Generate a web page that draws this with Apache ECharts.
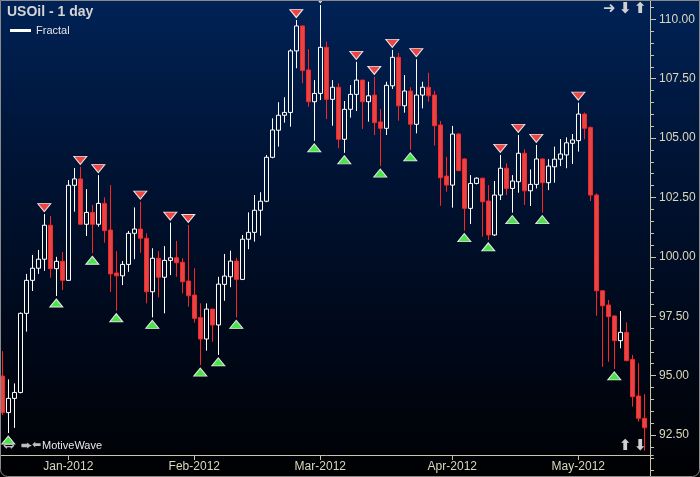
<!DOCTYPE html>
<html><head><meta charset="utf-8">
<script src="https://cdn.jsdelivr.net/npm/echarts/dist/echarts.min.js"></script>
<style>html,body{margin:0;padding:0;background:#000;}#c{width:700px;height:477px;}</style>
</head><body><div id="c"></div>
<script>
const dates = [
'2011-12-16','2011-12-19','2011-12-20','2011-12-21','2011-12-22','2011-12-23','2011-12-26','2011-12-27','2011-12-28','2011-12-29','2011-12-30',
'2012-01-03','2012-01-04','2012-01-05','2012-01-06','2012-01-09','2012-01-10','2012-01-11','2012-01-12','2012-01-13','2012-01-16','2012-01-17','2012-01-18','2012-01-19','2012-01-20','2012-01-23','2012-01-24','2012-01-25','2012-01-26','2012-01-27','2012-01-30','2012-01-31',
'2012-02-01','2012-02-02','2012-02-03','2012-02-06','2012-02-07','2012-02-08','2012-02-09','2012-02-10','2012-02-13','2012-02-14','2012-02-15','2012-02-16','2012-02-17','2012-02-20','2012-02-21','2012-02-22','2012-02-23','2012-02-24','2012-02-27','2012-02-28','2012-02-29',
'2012-03-01','2012-03-02','2012-03-05','2012-03-06','2012-03-07','2012-03-08','2012-03-09','2012-03-12','2012-03-13','2012-03-14','2012-03-15','2012-03-16','2012-03-19','2012-03-20','2012-03-21','2012-03-22','2012-03-23','2012-03-26','2012-03-27','2012-03-28','2012-03-29','2012-03-30',
'2012-04-02','2012-04-03','2012-04-04','2012-04-05','2012-04-06','2012-04-09','2012-04-10','2012-04-11','2012-04-12','2012-04-13','2012-04-16','2012-04-17','2012-04-18','2012-04-19','2012-04-20','2012-04-23','2012-04-24','2012-04-25','2012-04-26','2012-04-27','2012-04-30',
'2012-05-01','2012-05-02','2012-05-03','2012-05-04','2012-05-07','2012-05-08','2012-05-09','2012-05-10','2012-05-11','2012-05-14','2012-05-15','2012-05-16'
];
const opens = [
94.98,93.44,94.04,94.29,97.62,99.01,99.52,99.90,101.33,99.50,
99.81,99.01,103.01,103.28,101.37,101.87,101.37,102.25,101.13,99.32,
99.20,99.68,100.99,101.17,100.78,98.53,99.94,99.14,99.85,99.96,
99.77,98.98,98.39,97.44,96.54,97.80,97.13,98.84,99.16,99.82,
99.05,100.74,101.03,101.96,102.34,104.19,105.33,105.96,106.08,108.67,
109.72,107.87,106.53,106.88,108.82,106.63,107.14,104.95,106.21,106.84,
107.44,106.53,106.81,105.68,105.41,107.20,108.40,106.36,106.98,105.58,
106.81,107.14,106.81,105.55,103.40,103.02,105.17,104.12,102.04,103.09,
103.31,102.35,100.92,102.60,103.73,102.88,103.16,104.36,102.78,103.05,
104.12,103.12,103.79,104.11,104.29,104.78,104.89,106.01,105.45,102.60,
98.57,97.97,97.51,96.47,96.82,95.68,94.14,93.20
];
const closes = [
93.44,94.04,94.29,97.62,99.01,99.52,99.90,101.33,99.50,99.81,
99.01,103.01,103.28,101.37,101.87,101.37,102.25,101.10,99.28,99.20,
99.68,100.99,101.17,100.78,98.53,99.94,99.14,99.85,99.96,99.75,
98.95,98.36,97.41,96.54,97.80,97.13,98.85,99.19,99.82,99.05,
100.74,101.03,101.96,102.34,104.19,105.34,105.96,106.08,108.67,109.72,
107.84,106.53,106.88,108.82,106.63,107.14,104.95,106.21,106.84,107.44,
106.53,106.78,105.65,105.41,107.22,108.40,106.36,106.98,105.58,106.81,
107.14,106.78,105.52,103.33,103.02,105.17,103.63,102.04,103.09,103.31,
102.32,100.92,102.60,103.73,102.88,103.19,104.36,102.78,103.05,104.12,
103.12,103.82,104.11,104.33,104.80,104.92,106.01,105.41,102.60,98.57,
97.94,97.48,96.47,96.82,95.63,94.11,93.20,92.80
];
const lows = [
93.34,92.58,92.80,94.25,96.85,98.56,99.28,99.41,99.12,98.35,
98.60,99.00,101.90,101.37,100.88,100.15,101.27,100.59,98.52,97.73,
98.81,99.37,99.90,100.17,98.04,97.45,98.29,97.62,99.23,99.16,
98.46,97.90,97.23,95.44,96.05,96.43,95.87,98.15,98.72,97.45,
99.02,100.32,100.64,100.89,102.30,104.15,104.64,105.65,105.48,107.94,
107.31,106.32,104.88,106.60,105.80,105.52,104.57,104.38,105.86,106.14,
105.38,105.69,105.13,103.82,105.13,107.07,105.73,106.07,104.50,105.20,
106.25,106.53,104.68,102.15,102.74,102.07,103.60,101.10,101.38,103.05,
100.85,100.71,100.88,102.39,102.60,101.86,102.70,102.18,102.14,102.88,
101.86,102.81,103.12,103.82,103.73,103.91,104.43,104.95,102.35,97.52,
95.37,95.58,95.28,96.15,95.60,93.69,93.06,91.84
];
const highs = [
96.03,94.84,94.67,97.66,99.28,100.08,100.29,101.80,101.72,100.00,
100.20,103.23,103.74,103.79,102.85,102.18,103.44,102.51,103.02,100.24,
99.82,101.09,102.08,102.32,100.99,100.36,100.24,100.45,101.44,100.67,
99.94,101.34,99.52,98.04,98.04,97.80,99.16,100.12,100.26,99.96,
100.92,101.87,102.60,102.72,104.29,105.83,106.51,106.72,108.74,109.97,
109.74,108.74,107.44,110.60,109.06,107.44,107.31,106.56,107.23,108.21,
107.46,107.37,107.58,106.22,107.37,108.71,108.59,107.65,107.14,108.32,
107.37,107.75,106.99,105.72,104.21,105.51,105.20,104.15,103.44,103.35,
103.33,103.02,103.19,104.29,103.94,103.44,105.13,104.53,103.68,104.71,
104.14,104.11,104.64,104.96,105.03,105.17,106.49,106.07,105.48,102.67,
98.60,98.18,97.53,97.72,97.24,95.87,95.52,94.22
];
const fractalHighIdx = [7,13,16,23,28,31,49,53,59,62,65,69,83,86,89,96];
const fractalLowIdx = [1,9,15,19,25,33,36,39,52,57,63,68,77,81,85,90,102];
const monthNames = ['Jan','Feb','Mar','Apr','May','Jun','Jul','Aug','Sep','Oct','Nov','Dec'];

const isMonthStart = (i) => i > 0 && i < dates.length && dates[i].slice(5,7) !== dates[i-1].slice(5,7);
const monthLabel = (d) => d ? monthNames[parseInt(d.slice(5,7),10)-1] + '-' + d.slice(0,4) : '';

const FONT = '"Liberation Sans", Arial, sans-serif';
const AXIS = '#c8c4a8';
const LABEL = '#dcd8bc';
const ICON = 'bold 15px "DejaVu Sans"';

const chart = echarts.init(document.getElementById('c'), null, {renderer:'canvas'});
chart.setOption({
  animation: false,
  backgroundColor: {type:'linear', x:0, y:0, x2:0, y2:1, colorStops:[
    {offset:0, color:'#002256'}, {offset:0.3, color:'#001538'},
    {offset:0.65, color:'#000a1d'}, {offset:0.95, color:'#000207'}, {offset:1, color:'#000000'}]},
  title: {text:'USOil - 1 day', left:7, top:5, padding:0,
    textStyle:{color:'#d4d4d4', fontSize:14, fontWeight:'bold', fontFamily:FONT}},
  legend: {left:10, top:25, padding:0, itemWidth:21, itemHeight:3,
    data:[{name:'Fractal', icon:'rect', itemStyle:{color:'#ffffff', borderWidth:0, opacity:1}}],
    textStyle:{color:'#e4e4e4', fontSize:11, fontFamily:FONT}, selectedMode:false},
  grid: {left:-0.7, top:-40.07, width:654, height:534.4, containLabel:false, outerBoundsMode:'none'},
  xAxis: {type:'category', data:dates, max:dates.length, boundaryGap:true, offset:-39.3,
    axisLine:{lineStyle:{color:AXIS, width:1}},
    axisTick:{show:true, alignWithLabel:true, length:5, interval:(i)=>isMonthStart(i), lineStyle:{color:AXIS}},
    axisLabel:{interval:(i)=>isMonthStart(i), formatter:(v)=>monthLabel(v), color:LABEL, fontSize:12, fontFamily:FONT, margin:6},
    splitLine:{show:false}},
  yAxis: {type:'value', position:'right', offset:-3.3, min:90, max:112.5, interval:2.5, scale:true,
    axisLine:{show:true, lineStyle:{color:AXIS}},
    axisTick:{show:true, length:6, lineStyle:{color:AXIS}},
    minorTick:{show:true, splitNumber:5, length:4, lineStyle:{color:AXIS}},
    axisLabel:{formatter:(v)=>v.toFixed(2), color:LABEL, fontSize:12, fontFamily:FONT, margin:9},
    splitLine:{show:false}},
  series: [
    {type:'candlestick', name:'USOil', barWidth:4,
     data: opens.map((o,i)=>[o, closes[i], lows[i], highs[i]]),
     itemStyle:{color:'rgba(0,0,0,0)', color0:'#e34646', borderColor:'#ffffff', borderColor0:'#ff2424', borderWidth:1}},
    {type:'scatter', name:'Fractal', symbol:'path://M0,0 L10,0 L5,7 Z', symbolSize:[13,8], symbolOffset:[0,-6.5], z:5,
     data: fractalHighIdx.map(i=>[i, highs[i]]),
     itemStyle:{color:'#f04444', borderColor:'#e6e6e6', borderWidth:1, opacity:1}},
    {type:'scatter', name:'Fractal', symbol:'path://M5,0 L10,7 L0,7 Z', symbolSize:[13,8], symbolOffset:[0,7], z:5,
     data: fractalLowIdx.map(i=>[i, lows[i]]),
     itemStyle:{color:'#48e448', borderColor:'#e6e6e6', borderWidth:1, opacity:1}}
  ],
  graphic: [
    {type:'rect', silent:true, z:100, shape:{x:0.5, y:0.5, width:699, height:476, r:[0,0,7,7]},
     style:{fill:'none', stroke:'#8a8a8a', lineWidth:1}},
    {type:'text', left:3, top:439, z:100, style:{text:'\u21D4', fill:'#bdbdbd', font:'bold 14px "DejaVu Sans"'}},
    {type:'text', left:21, top:440, z:100, style:{text:'\u2B95\u2B05', fill:'#bdbdbd', font:'bold 11px "DejaVu Sans"'}},
    {type:'text', left:42, top:440, z:100, style:{text:'MotiveWave', fill:'#e8e8e8', font:'11px ' + FONT}},
    {type:'text', left:603, top:2, z:100, style:{text:'\u279C', fill:'#d0d0d0', font:ICON}},
    {type:'text', left:619, top:2, z:100, style:{text:'\u2B07', fill:'#d0d0d0', font:ICON}},
    {type:'text', left:634, top:2, z:100, style:{text:'\u2B06', fill:'#d0d0d0', font:ICON}},
    {type:'text', left:619, top:439, z:100, style:{text:'\u2B06', fill:'#d0d0d0', font:ICON}},
    {type:'text', left:634, top:439, z:100, style:{text:'\u2B07', fill:'#d0d0d0', font:ICON}}
  ]
});
</script></body></html>
